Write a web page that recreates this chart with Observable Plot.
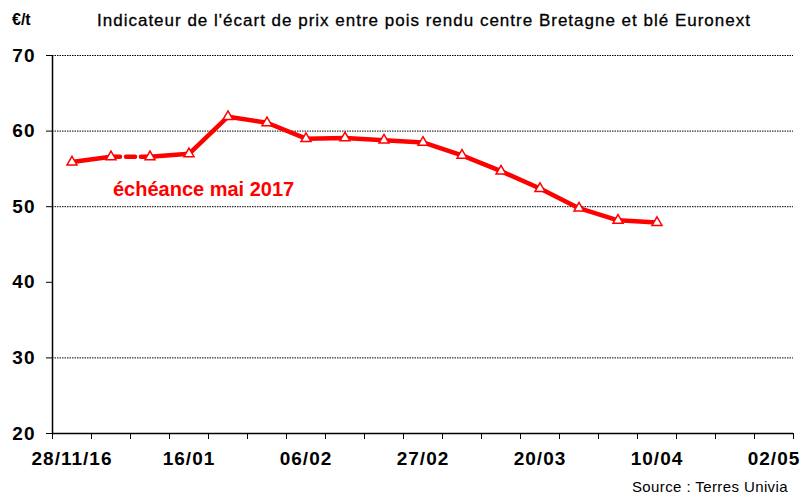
<!DOCTYPE html>
<html>
<head>
<meta charset="utf-8">
<script src="https://cdn.jsdelivr.net/npm/d3@7"></script>
<script src="https://cdn.jsdelivr.net/npm/@observablehq/plot@0.6"></script>
<style>
  body { margin: 0; background: #fff; font-family: "Liberation Sans", Arial, sans-serif; }
  #wrap { position: relative; width: 801px; height: 495px; overflow: hidden; background: #fff; }
  #unit { position: absolute; left: 12px; top: 11px; font-size: 16px; font-weight: bold; line-height: 18px; }
  #title { position: absolute; left: 0; width: 848px; top: 12px; text-align: center; font-size: 17px; letter-spacing: 1px; line-height: 18px; -webkit-text-stroke: 0.3px #000; }
  #chart { position: absolute; left: 0; top: 40px; }
  #source { position: absolute; right: 13px; top: 478px; font-size: 15px; letter-spacing: 0.4px; line-height: 17px; }
  #chart g[aria-label="x-axis tick label"] text,
  #chart g[aria-label="y-axis tick label"] text { letter-spacing: 1px; }
</style>
</head>
<body>
<div id="wrap">
  <div id="unit">€/t</div>
  <div id="title">Indicateur de l'écart de prix entre pois rendu centre Bretagne et blé Euronext</div>
  <div id="chart"></div>
  <div id="source">Source : Terres Univia</div>
</div>
<script>
// ---- data ----
const values = [55.9, 56.6, 56.6, 57.0, 61.9, 61.1, 59.0, 59.1, 58.8, 58.5, 56.8, 54.7, 52.4, 49.8, 48.2, 47.9];
const slotCount = 19;                       // weekly category slots on the x axis
const tickLabels = ["28/11/16", "16/01", "06/02", "27/02", "20/03", "10/04", "02/05"];
const tickLabelSlots = [0, 3, 6, 9, 12, 15, 18];
const dashedAfter = [1];                    // segment from point 1 to point 2 is dashed
const yTicks = [20, 30, 40, 50, 60, 70];
const gridValues = [30, 50, 60, 70];
const annotationText = ["échéance mai 2017"];
const annotationAt = {slot: 1.55, value: 52.3};

// ---- derived tables ----
const points = values.map((v, i) => ({slot: i + 0.5, value: v, run: dashedAfter.filter(d => d < i).length}));
const dashedPoints = dashedAfter.flatMap((d, k) => [
  {slot: d + 0.5, value: values[d], seg: k},
  {slot: d + 1.5, value: values[d + 1], seg: k}
]);

const font = '"Liberation Sans", Arial, sans-serif';
const red = "#ff0000";

const chart = Plot.plot({
  width: 801,
  height: 435,
  marginLeft: 52,
  marginRight: 8,
  marginTop: 15,
  marginBottom: 42,
  x: {domain: [0, slotCount], axis: null},
  y: {domain: [20, 70], axis: null},
  style: {fontFamily: font, background: "white", color: "black", overflow: "visible"},
  marks: [
    Plot.ruleY(gridValues, {stroke: "#000", strokeWidth: 1, strokeDasharray: "1.5,1"}),
    Plot.axisY({ticks: yTicks, tickSize: 6, tickPadding: 11, fontSize: 19, fontWeight: "bold", label: null, tickFormat: d => d}),
    Plot.axisX({ticks: d3.range(slotCount + 1), tickFormat: () => "", tickSize: 6, label: null}),
    Plot.axisX({
      ticks: tickLabelSlots.map(s => s + 0.5),
      tickFormat: d => tickLabels[tickLabelSlots.indexOf(d - 0.5)],
      tickSize: 0, tickPadding: 18, fontSize: 19, fontWeight: "bold", label: null
    }),
    Plot.ruleX([0], {stroke: "#000", strokeWidth: 1.5}),
    Plot.ruleY([20], {stroke: "#000", strokeWidth: 1.5}),
    Plot.line(points, {x: "slot", y: "value", z: "run", stroke: red, strokeWidth: 4.5, strokeLinejoin: "round"}),
    Plot.line(dashedPoints, {x: "slot", y: "value", z: "seg", stroke: red, strokeWidth: 4.5, strokeDasharray: "9,6"}),
    Plot.dot(points, {x: "slot", y: "value", symbol: "triangle", r: 3.7, fill: "white", stroke: red, strokeWidth: 1.5}),
    Plot.text(annotationText, {
      x: () => annotationAt.slot, y: () => annotationAt.value, text: d => d,
      textAnchor: "start", fill: red, fontSize: 20, fontWeight: "bold"
    })
  ]
});
document.getElementById("chart").appendChild(chart);
</script>
</body>
</html>
